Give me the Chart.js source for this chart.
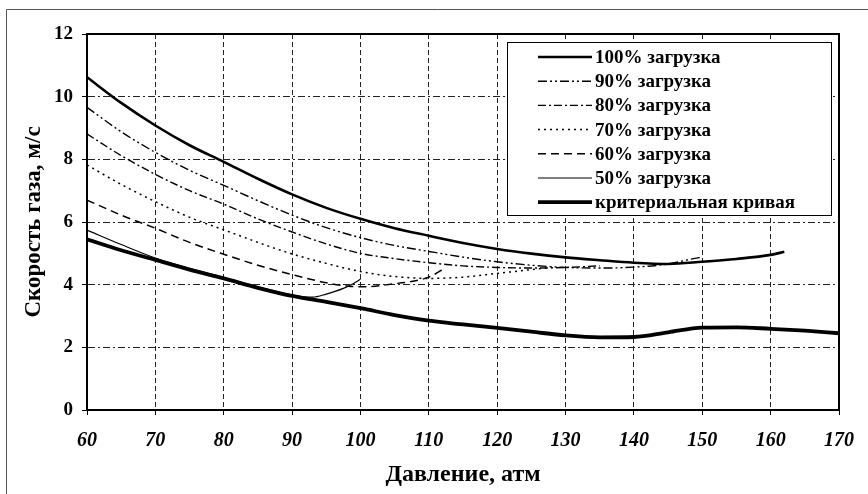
<!DOCTYPE html>
<html>
<head>
<meta charset="utf-8">
<script src="https://cdn.jsdelivr.net/npm/chart.js@4.4.1/dist/chart.umd.min.js"></script>
<style>
  html, body { margin: 0; padding: 0; background: #fff; }
  #wrap { width: 868px; height: 494px; position: relative; }
</style>
</head>
<body>
<div id="wrap"><canvas id="c" width="868" height="494"></canvas></div>
<script>
// ---- data ----
const seriesLabels = ['100% загрузка', '90% загрузка', '80% загрузка', '70% загрузка', '60% загрузка', '50% загрузка', 'критериальная кривая'];

const p100 = [60, 65, 70, 75, 80, 85, 90, 95, 100, 105, 110, 115, 120, 125, 130, 135, 140, 145, 150, 155, 160, 162];
const v100 = [10.62, 9.8, 9.08, 8.45, 7.92, 7.38, 6.88, 6.45, 6.1, 5.8, 5.56, 5.33, 5.14, 4.99, 4.87, 4.78, 4.7, 4.66, 4.73, 4.82, 4.95, 5.05];

const p90 = [60, 65, 70, 75, 80, 85, 90, 95, 100, 105, 110, 115, 120, 125, 130, 135, 140, 145, 148, 150];
const v90 = [9.66, 8.88, 8.22, 7.65, 7.17, 6.68, 6.22, 5.82, 5.5, 5.25, 5.06, 4.88, 4.73, 4.62, 4.55, 4.53, 4.56, 4.66, 4.8, 4.88];

const p80 = [60, 65, 70, 75, 80, 85, 90, 95, 100, 105, 110, 115, 120, 125, 130, 135];
const v80 = [8.81, 8.12, 7.52, 7.0, 6.57, 6.1, 5.68, 5.3, 5.0, 4.83, 4.7, 4.6, 4.55, 4.53, 4.55, 4.6];

const p70 = [60, 65, 70, 75, 80, 85, 90, 95, 100, 105, 110, 115, 120, 125, 128];
const v70 = [7.82, 7.2, 6.65, 6.15, 5.75, 5.35, 4.98, 4.68, 4.42, 4.26, 4.2, 4.24, 4.36, 4.48, 4.55];

const p60 = [60, 65, 70, 75, 80, 85, 90, 95, 98, 100, 105, 110, 112.5];
const v60 = [6.7, 6.22, 5.8, 5.35, 4.97, 4.62, 4.32, 4.06, 3.96, 3.93, 4.03, 4.24, 4.55];

const p50 = [60, 65, 70, 75, 80, 85, 90, 93, 95, 97.5, 99, 100];
const v50 = [5.74, 5.28, 4.85, 4.52, 4.23, 3.93, 3.67, 3.6, 3.7, 3.88, 4.04, 4.17];

const pCrit = [60, 65, 70, 75, 80, 85, 90, 95, 100, 105, 110, 115, 120, 125, 130, 135, 140, 145, 150, 155, 160, 165, 170];
const vCrit = [5.45, 5.1, 4.79, 4.48, 4.2, 3.9, 3.64, 3.45, 3.25, 3.03, 2.85, 2.73, 2.62, 2.5, 2.38, 2.32, 2.33, 2.48, 2.63, 2.64, 2.59, 2.53, 2.45];

const xTicks = [60, 70, 80, 90, 100, 110, 120, 130, 140, 150, 160, 170];
const yTicks = [0, 2, 4, 6, 8, 10, 12];

const xTitle = 'Давление, атм';
const yTitle = 'Скорость газа, м/с';

// ---- helpers ----
function pts(px, vy) { return px.map((x, i) => ({ x: x, y: vy[i] })); }

const FONT = '"Liberation Serif", "Times New Roman", serif';

const seriesData = [pts(p100, v100), pts(p90, v90), pts(p80, v80), pts(p70, v70), pts(p60, v60), pts(p50, v50), pts(pCrit, vCrit)];
const styles = [
  { w: 2.6, dash: [] },
  { w: 1.4, dash: [9, 3, 2, 3, 2, 3] },
  { w: 1.4, dash: [8, 3, 2, 3] },
  { w: 1.5, dash: [2, 4] },
  { w: 1.5, dash: [8, 5] },
  { w: 1.2, dash: [] },
  { w: 3.8, dash: [] }
];

const datasets = seriesLabels.map((lab, i) => ({
  label: lab,
  data: seriesData[i],
  borderColor: '#000',
  backgroundColor: '#000',
  borderWidth: styles[i].w,
  borderDash: styles[i].dash,
  pointRadius: 0,
  fill: false,
  tension: 0.35,
  cubicInterpolationMode: 'monotone',
  order: 6 - i
}));

// frame + plot border
const framePlugin = {
  id: 'frame',
  beforeDraw(chart) {
    const ctx = chart.ctx;
    ctx.save();
    ctx.fillStyle = '#fff';
    ctx.fillRect(0, 0, chart.width, chart.height);
    ctx.strokeStyle = '#555';
    ctx.lineWidth = 1;
    ctx.beginPath();
    ctx.moveTo(6.5, chart.height);
    ctx.lineTo(6.5, 9.5);
    ctx.lineTo(chart.width, 9.5);
    ctx.stroke();
    ctx.restore();
  },
  beforeDatasetsDraw(chart) {
    const a = chart.chartArea;
    const ctx = chart.ctx;
    ctx.save();
    ctx.strokeStyle = '#000';
    ctx.lineWidth = 2;
    ctx.strokeRect(a.left, a.top, a.right - a.left, a.bottom - a.top);
    ctx.restore();
  }
};

// legend box drawn inside the plot
const legendPlugin = {
  id: 'boxLegend',
  afterDraw(chart) {
    const ctx = chart.ctx;
    const bx = 507, by = 42, bw = 324, bh = 173;
    ctx.save();
    ctx.fillStyle = '#fff';
    ctx.fillRect(bx, by, bw, bh);
    ctx.strokeStyle = '#000';
    ctx.lineWidth = 1;
    ctx.strokeRect(bx + 0.5, by + 0.5, bw, bh);
    ctx.font = 'bold 19px ' + FONT;
    ctx.textBaseline = 'middle';
    ctx.fillStyle = '#000';
    chart.data.datasets.forEach((ds, i) => {
      const y = 57 + i * 24.2;
      ctx.save();
      ctx.strokeStyle = '#000';
      ctx.lineWidth = ds.borderWidth;
      ctx.setLineDash(ds.borderDash || []);
      ctx.beginPath();
      ctx.moveTo(538, y);
      ctx.lineTo(592, y);
      ctx.stroke();
      ctx.restore();
      ctx.fillText(ds.label, 595, y + 1);
    });
    ctx.restore();
  }
};

new Chart(document.getElementById('c'), {
  type: 'line',
  data: { datasets: datasets },
  options: {
    responsive: false,
    animation: false,
    events: [],
    layout: { padding: { top: 34, right: 29, left: 0, bottom: 0 } },
    plugins: { legend: { display: false }, tooltip: { enabled: false }, title: { display: false } },
    scales: {
      x: {
        type: 'linear',
        min: 60, max: 170,
        afterBuildTicks(scale) { scale.ticks = xTicks.map(v => ({ value: v })); },
        afterFit(scale) { scale.height = 84; },
        ticks: {
          color: '#000',
          padding: 14,
          maxRotation: 0,
          font: { family: FONT, size: 20, weight: 'bold', style: 'italic' }
        },
        grid: { color: '#222', lineWidth: 1, tickLength: 5, tickColor: '#000', drawTicks: true },
        border: { display: true, color: '#000', width: 2, dash: [5, 3] },
        title: {
          display: true, text: xTitle, color: '#000',
          font: { family: FONT, size: 24, weight: 'bold' },
          padding: { top: 0, bottom: 5 }
        }
      },
      y: {
        min: 0, max: 12,
        afterBuildTicks(scale) { scale.ticks = yTicks.map(v => ({ value: v })); },
        afterFit(scale) { scale.width = 87; },
        ticks: {
          color: '#000',
          padding: 9,
          font: { family: FONT, size: 19, weight: 'bold' }
        },
        grid: { color: '#222', lineWidth: 1, tickLength: 5, tickColor: '#000', drawTicks: true },
        border: { display: true, color: '#000', width: 2, dash: [7, 3, 2, 3] },
        title: {
          display: true, text: yTitle, color: '#000',
          font: { family: FONT, size: 23, weight: 'bold' },
          padding: { top: 20, bottom: 0 }
        }
      }
    }
  },
  plugins: [framePlugin, legendPlugin]
});
</script>
</body>
</html>
